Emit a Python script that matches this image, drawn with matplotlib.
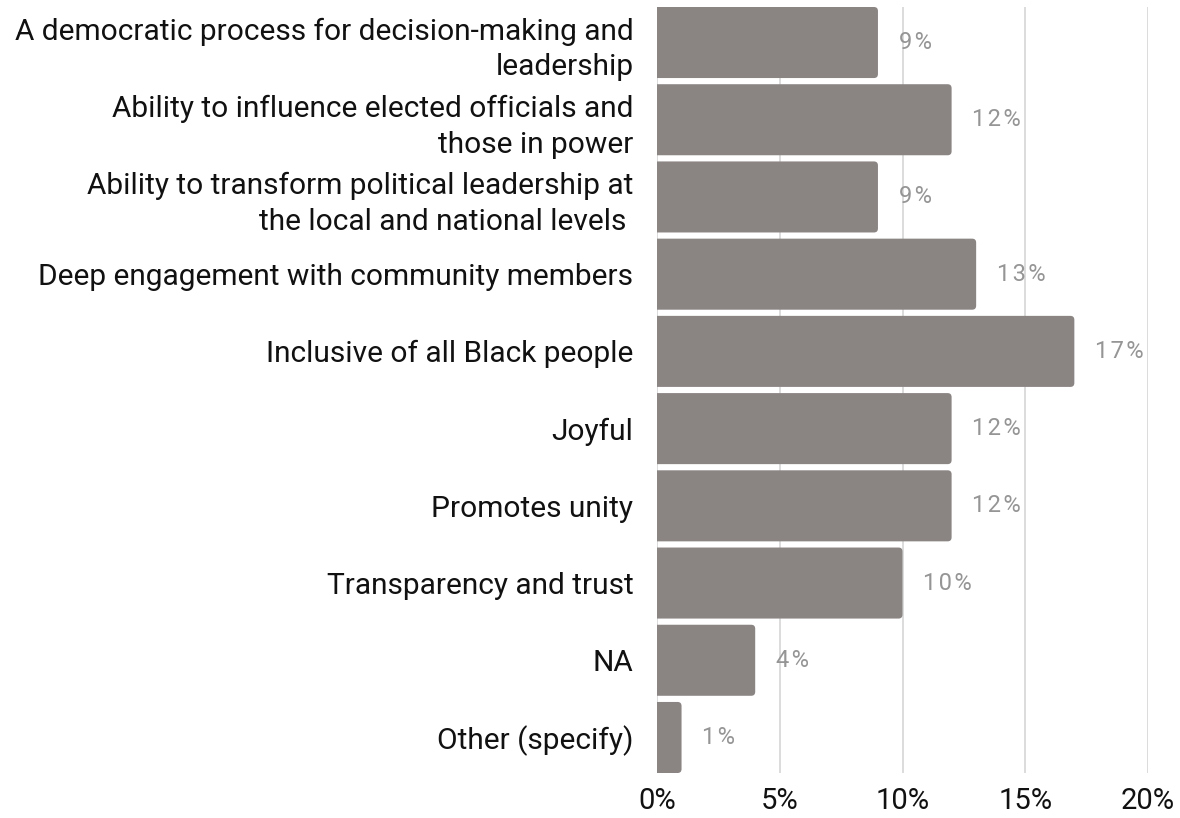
import matplotlib
matplotlib.use("Agg")
import matplotlib.pyplot as plt
from matplotlib.patches import FancyBboxPatch
from matplotlib.ticker import FuncFormatter

plt.rcParams['font.family'] = ['Roboto', 'DejaVu Sans']

categories = [
    "A democratic process for decision-making and\nleadership",
    "Ability to influence elected officials and\nthose in power",
    "Ability to transform political leadership at\nthe local and national levels ",
    "Deep engagement with community members",
    "Inclusive of all Black people",
    "Joyful",
    "Promotes unity",
    "Transparency and trust",
    "NA",
    "Other (specify)",
]
values = [9, 12, 9, 13, 17, 12, 12, 10, 4, 1]
xticks = [0, 5, 10, 15, 20]

BAR_COLOR = "#8a8483"
LABEL_COLOR = "#959595"
TEXT_COLOR = "#111111"

W, H = 1180, 818
fig = plt.figure(figsize=(W / 100, H / 100), dpi=100)
ax = fig.add_axes([657 / W, 1 - 773 / H, (1148 - 657) / W, (773 - 7) / H])

bar_h = 0.92
ypos = list(range(len(categories)))
ax.set_xlim(0, 20)
ax.set_ylim(len(categories) - 1 + bar_h / 2, -bar_h / 2)

bars = ax.barh(ypos, values, height=bar_h, color=BAR_COLOR, zorder=3)

# replace the square bars with ones whose outer corners are slightly rounded
px_x = 20 / (1148 - 657)
px_y = (len(categories) - 1 + bar_h) / (773 - 7)
radius = 4 * px_x
for b in bars:
    b.set_visible(False)
    x0, y0, w, h = b.get_x(), b.get_y(), b.get_width(), b.get_height()
    patch = FancyBboxPatch((x0 - 2 * radius, y0), w + 2 * radius, h,
                           boxstyle=f"round,pad=0,rounding_size={radius}",
                           mutation_aspect=px_y / px_x,
                           facecolor=BAR_COLOR, edgecolor="none", zorder=3)
    ax.add_patch(patch)

ax.set_xticks(xticks)
ax.xaxis.set_major_formatter(FuncFormatter(lambda v, _: f"{v:.0f}%"))
ax.set_yticks(ypos)
ax.set_yticklabels(categories, fontsize=21.5, color=TEXT_COLOR, linespacing=1.35)

ax.tick_params(axis="x", length=0, pad=10, labelsize=21, labelcolor=TEXT_COLOR)
ax.tick_params(axis="y", length=0, pad=17)

ax.grid(axis="x", color="#d6d6d6", linewidth=1.2, zorder=0)
for s in ax.spines.values():
    s.set_visible(False)

for y, v in zip(ypos, values):
    label = "\u200a".join(f"{v}%")
    ax.annotate(label, xy=(v, y), xytext=(15, 0), textcoords="offset points",
                ha="left", va="center", fontsize=17, color=LABEL_COLOR)

fig.savefig("out.png", dpi=100)
